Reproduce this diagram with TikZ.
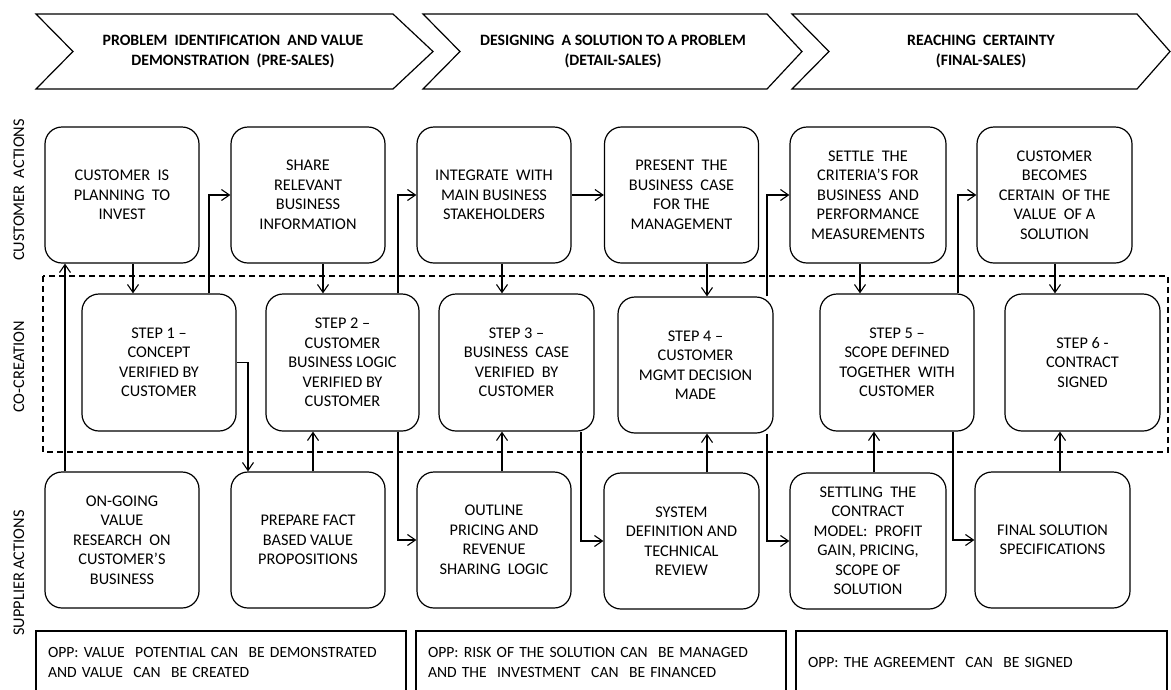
\documentclass[tikz,border=0pt]{standalone}
\usepackage{fontspec}
\setmainfont{Carlito}
\usetikzlibrary{arrows.meta}
\begin{document}
\begin{tikzpicture}[x=1pt,y=-1pt,
  every node/.style={font=\fontsize{16.3}{19.5}\selectfont},
  box/.style={draw, line width=1.2pt, rounded corners=17pt, fill=white,
    minimum width=154pt, minimum height=136pt, inner sep=0pt, align=center},
  arr/.style={line width=1.1pt, -{Straight Barb[length=8pt,width=11pt,line width=1.1pt]}},
  chev/.style={line width=1.2pt},
  chevtext/.style={font=\fontsize{15.8}{20}\selectfont\bfseries, align=center},
  opp/.style={draw, line width=1.3pt, minimum height=62pt, inner xsep=12pt, inner ysep=0pt, align=left,
    font=\fontsize{15.6}{20}\selectfont},
  lane/.style={rotate=90}
]
\useasboundingbox (0,0) rectangle (1171,689);
\clip (0,0) rectangle (1171,689);

% header chevrons
\draw[chev] (36,14) -- (393,14) -- (433,51.5) -- (393,89) -- (36,89) -- (73,51.5) -- cycle;
\draw[chev] (423,14) -- (767,14) -- (802,51.5) -- (767,89) -- (423,89) -- (460,51.5) -- cycle;
\draw[chev] (792,14) -- (1137,14) -- (1170,51.5) -- (1137,89) -- (792,89) -- (829,51.5) -- cycle;
\node[chevtext] (h1) at (233,52) {PROBLEM\ \ IDENTIFICATION\ \ AND VALUE\\DEMONSTRATION\ \ (PRE-SALES)};
\node[chevtext] (h2) at (613,52) {DESIGNING\ \ A SOLUTION TO A PROBLEM\\(DETAIL-SALES)};
\node[chevtext] (h3) at (981,52) {REACHING\ \ CERTAINTY\\(FINAL-SALES)};

% lane labels
\node[lane] (l1) at (19,190) {CUSTOMER\ \ ACTIONS};
\node[lane] (l2) at (19,367) {CO-CREATION};
\node[lane] (l3) at (19,573) {SUPPLIER ACTIONS};

% co-creation frame
\draw[line width=1.1pt, dash pattern=on 6pt off 4pt] (43,276) rectangle (1168,452);

% customer actions
\node[box] (A1) at (122,195) {CUSTOMER\ \ IS\\PLANNING\ \ TO\\INVEST};
\node[box] (A2) at (308,195) {SHARE\\RELEVANT\\BUSINESS\\INFORMATION};
\node[box] (A3) at (494,195) {INTEGRATE\ \ WITH\\MAIN BUSINESS\\STAKEHOLDERS};
\node[box] (A4) at (681.5,195) {PRESENT\ \ THE\\BUSINESS\ \ CASE\\FOR THE\\MANAGEMENT};
\node[box,minimum width=156pt] (A5) at (868,195) {SETTLE\ \ THE\\CRITERIA’S FOR\\BUSINESS\ \ AND\\PERFORMANCE\\MEASUREMENTS};
\node[box,minimum width=155pt] (A6) at (1054.5,195) {CUSTOMER\\BECOMES\\CERTAIN\ \ OF THE\\VALUE\ \ OF A\\SOLUTION};

% co-creation
\node[box,minimum height=137pt] (B1) at (159,362.5) {STEP 1 –\\CONCEPT\\VERIFIED BY\\CUSTOMER};
\node[box,minimum width=153pt,minimum height=137pt] (B2) at (342.5,362.5) {STEP 2 –\\CUSTOMER\\BUSINESS LOGIC\\VERIFIED BY\\CUSTOMER};
\node[box,minimum width=155pt,minimum height=137pt] (B3) at (516.5,362.5) {STEP 3 –\\BUSINESS\ \ CASE\\VERIFIED\ \ BY\\CUSTOMER};
\node[box,minimum width=155pt,minimum height=136pt] (B4) at (695.5,365) {STEP 4 –\\CUSTOMER\\MGMT DECISION\\MADE};
\node[box,minimum height=137pt] (B5) at (897,362.5) {STEP 5 –\\SCOPE DEFINED\\TOGETHER\ \ WITH\\CUSTOMER};
\node[box,minimum width=155pt,minimum height=137pt] (B6) at (1082.5,362.5) {STEP 6 -\\CONTRACT\\SIGNED};

% supplier actions
\node[box] (C1) at (122,540) {ON-GOING\\VALUE\\RESEARCH\ \ ON\\CUSTOMER’S\\BUSINESS};
\node[box] (C2) at (308,540) {PREPARE FACT\\BASED VALUE\\PROPOSITIONS};
\node[box] (C3) at (494,540) {OUTLINE\\PRICING AND\\REVENUE\\SHARING\ \ LOGIC};
\node[box,minimum width=155pt] (C4) at (681.5,541) {SYSTEM\\DEFINITION AND\\TECHNICAL\\REVIEW};
\node[box,minimum width=156pt] (C5) at (868,541) {SETTLING\ \ THE\\CONTRACT\\MODEL:\ \ PROFIT\\GAIN, PRICING,\\SCOPE OF\\SOLUTION};
\node[box,minimum width=155pt] (C6) at (1052.5,540) {FINAL SOLUTION\\SPECIFICATIONS};

% opportunity boxes
\node[opp,text width=346pt] (O1) at (221,662) {OPP: VALUE\ \ POTENTIAL CAN\ \ BE DEMONSTRATED\\AND VALUE\ \ CAN\ \ BE CREATED};
\node[opp,text width=346pt] (O2) at (601,662) {OPP: RISK OF THE SOLUTION CAN\ \ BE MANAGED\\AND THE\ \ INVESTMENT\ \ CAN\ \ BE FINANCED};
\node[opp,text width=347pt] (O3) at (981.5,662) {OPP: THE AGREEMENT\ \ CAN\ \ BE SIGNED};

% connector columns
\coordinate (k1) at (133,0);
\coordinate (k2) at (65,0);
\coordinate (k3) at (209,0);
\coordinate (k4) at (248,0);
\coordinate (k5) at (323,0);
\coordinate (k6) at (313,0);
\coordinate (k7) at (398,0);
\coordinate (k8) at (502,0);
\coordinate (k9) at (581,0);
\coordinate (k10) at (707,0);
\coordinate (k11) at (767,0);
\coordinate (k12) at (860,0);
\coordinate (k13) at (874,0);
\coordinate (k14) at (958,0);
\coordinate (k15) at (953,0);
\coordinate (k16) at (1055,0);
\coordinate (k17) at (1060,0);

% connectors
\draw[arr] (A1.south -| k1) -- (B1.north -| k1);
\draw[arr] (C1.north -| k2) -- (A1.south -| k2);
\draw[arr] (B1.north -| k3) |- (A2.west);
\draw[arr] (B1.east) -| (C2.north -| k4);
\draw[arr] (A2.south -| k5) -- (B2.north -| k5);
\draw[arr] (C2.north -| k6) -- (B2.south -| k6);
\draw[arr] (B2.north -| k7) |- (A3.west);
\draw[arr] (B2.south -| k7) |- (C3.west);
\draw[arr] (A3.east) -- (A4.west);
\draw[arr] (A3.south -| k8) -- (B3.north -| k8);
\draw[arr] (C3.north -| k8) -- (B3.south -| k8);
\draw[arr] (B3.south -| k9) |- (C4.west);
\draw[arr] (A4.south -| k10) -- (B4.north -| k10);
\draw[arr] (C4.north -| k10) -- (B4.south -| k10);
\draw[arr] (B4.north -| k11) |- (A5.west);
\draw[arr] (B4.south -| k11) |- (C5.west);
\draw[arr] (A5.south -| k12) -- (B5.north -| k12);
\draw[arr] (C5.north -| k13) -- (B5.south -| k13);
\draw[arr] (B5.north -| k14) |- (A6.west);
\draw[arr] (B5.south -| k15) |- (C6.west);
\draw[arr] (A6.south -| k16) -- (B6.north -| k16);
\draw[arr] (C6.north -| k17) -- (B6.south -| k17);
\end{tikzpicture}
\end{document}
